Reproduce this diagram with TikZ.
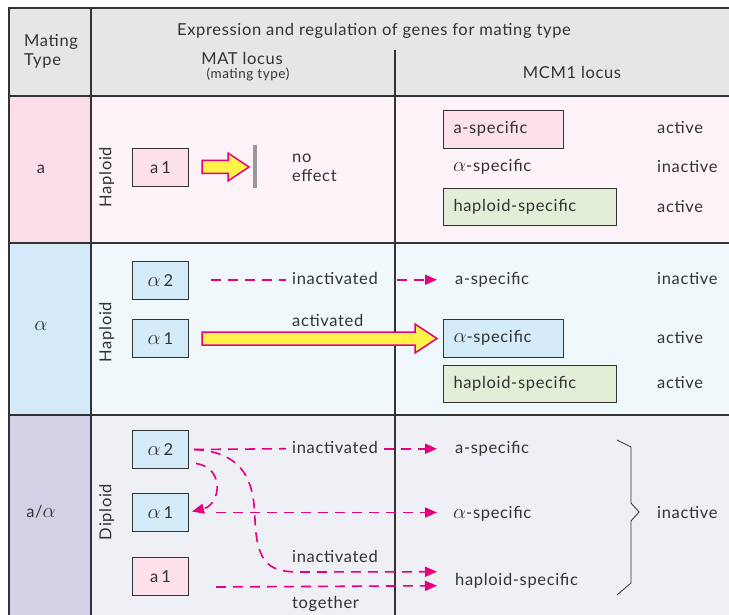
\documentclass[tikz,border=0pt]{standalone}
\usepackage{fontspec}
\setmainfont{Lato}[LetterSpace=4]
\usetikzlibrary{arrows.meta}
\definecolor{txtc}{HTML}{333333}
\definecolor{gridc}{HTML}{333333}
\definecolor{hdr}{HTML}{E6E6E8}
\definecolor{pinkL}{HTML}{FADDE8}
\definecolor{pinkR}{HTML}{FDF3F8}
\definecolor{blueL}{HTML}{D3EAF8}
\definecolor{blueR}{HTML}{F1F8FC}
\definecolor{lavL}{HTML}{D4D1E7}
\definecolor{lavR}{HTML}{EFEFF6}
\definecolor{boxpink}{HTML}{FCE0EA}
\definecolor{boxblue}{HTML}{D4ECF9}
\definecolor{boxgreen}{HTML}{E3EED6}
\definecolor{mag}{HTML}{E5007D}
\definecolor{yel}{HTML}{FFF34A}
\definecolor{barc}{HTML}{999999}
\newcommand{\mainsize}{\fontsize{16.5}{19}\selectfont}
\newcommand{\alp}{\scalebox{1.2}{$\alpha$}}
\begin{document}
\begin{tikzpicture}[x=1pt,y=-1pt,
  txt/.style={inner sep=0pt,text=txtc,font=\mainsize,text height=12pt,text depth=3.5pt},
  small/.style={inner sep=0pt,text=txtc,font=\fontsize{13.5}{16}\selectfont},
  gridline/.style={draw=gridc,line width=1.2pt},
  smallbox/.style={draw=gridc,line width=1pt,minimum width=56pt,minimum height=38pt,inner sep=0pt,anchor=north west,text=txtc,font=\mainsize},
  specbox/.style={draw=gridc,line width=1pt,minimum height=38pt,inner xsep=10pt,inner ysep=0pt,align=left,anchor=north west,text=txtc,font=\mainsize,text height=12pt,text depth=3.5pt},
  dashline/.style={draw=mag,line width=1.6pt,dash pattern=on 10pt off 7pt},
  tip/.style={-{Triangle[length=12pt,width=10pt]}},
  blockarrow/.style={draw=mag,fill=yel,line width=1.5pt,line join=miter},
  brace/.style={draw=gridc,line width=0.8pt}
]
\useasboundingbox (0,0) rectangle (729,615);
\fill[white] (0,0) rectangle (729,615);
% backgrounds
\fill[hdr] (9,8) rectangle (729,96);
\fill[pinkL] (9,96) rectangle (91,243);
\fill[pinkR] (91,96) rectangle (729,243);
\fill[blueL] (9,243) rectangle (91,415);
\fill[blueR] (91,243) rectangle (729,415);
\fill[lavL] (9,415) rectangle (91,615);
\fill[lavR] (91,415) rectangle (729,615);
% grid
\draw[gridline] (9,615) -- (9,8) -- (729,8);
\draw[gridline] (91,8) -- (91,615);
\draw[gridline] (9,96) -- (729,96);
\draw[gridline] (9,243) -- (729,243);
\draw[gridline] (9,415) -- (729,415);
\draw[gridline] (395,50) -- (395,615);
% header
\node[txt,anchor=base west] (mating) at (24,47) {Mating};
\node[txt,anchor=base west] (type) at (24,66) {Type};
\node[txt,anchor=base] (expr) at (374,36) {Expression and regulation of genes for mating type};
\node[txt,anchor=base,text depth=0pt] (mat) at (242,65) {MAT locus};
\node[small,anchor=base] (matsub) at (248,78.5) {(mating type)};
\node[txt,anchor=base] (mcm) at (572,79) {MCM1 locus};
% row labels
\node[txt,anchor=base] (la) at (41,174) {a};
\node[txt,anchor=base] (lb) at (41,330) {\alp};
\node[txt,anchor=base] (lc) at (41,517) {a/\alp};
\node[txt,rotate=90] (hapa) at (107,177) {Haploid};
\node[txt,rotate=90] (hapb) at (107,332) {Haploid};
\node[txt,rotate=90] (dipc) at (107,512) {Diploid};
% ---- row a
\node[smallbox,fill=boxpink] (a1a) at (132,148) {a\hspace{3pt}1};
\draw[blockarrow] (202,160.5) -- (228,160.5) -- (228,153) -- (249,167) -- (228,181) -- (228,173.5) -- (202,173.5) -- cycle;
\fill[barc] (253,145) rectangle (257,188);
\node[txt,anchor=base west] (noa) at (292,163) {no};
\node[txt,anchor=base west] (effa) at (292,182) {effect};
\node[specbox,fill=boxpink,text width=100pt] (aspa) at (443,110) {a-specific};
\node[txt,anchor=base west] (alspa) at (453,172) {\alp-specific};
\node[specbox,fill=boxgreen,text width=153pt,minimum height=37pt] (hspa) at (443,188) {haploid-specific};
\node[txt,anchor=base west] (st1) at (657,134) {active};
\node[txt,anchor=base west] (st2) at (657,173) {inactive};
\node[txt,anchor=base west] (st3) at (657,212) {active};
% ---- row alpha
\node[smallbox,fill=boxblue] (a2b) at (132,261) {\alp\hspace{3pt}2};
\node[smallbox,fill=boxblue] (a1b) at (132,319) {\alp\hspace{3pt}1};
\node[txt,anchor=base west] (inactb) at (292,284) {inactivated};
\node[txt,anchor=base west] (actb) at (292,326) {activated};
\node[txt,anchor=base west] (aspb) at (455,284) {a-specific};
\node[specbox,fill=boxblue,text width=100pt] (alspb) at (443,319) {\alp-specific};
\node[specbox,fill=boxgreen,text width=153pt,minimum height=37pt] (hspb) at (443,365) {haploid-specific};
\node[txt,anchor=base west] (st4) at (657,284) {inactive};
\node[txt,anchor=base west] (st5) at (657,343) {active};
\node[txt,anchor=base west] (st6) at (657,388) {active};
\coordinate (b1s) at ([shift={(22,0)}]a2b.east);
\coordinate (b1e) at ([shift={(-6,0)}]inactb.west);
\draw[dashline] (b1s |- inactb.west) -- (b1e);
\draw[dashline,tip] ([shift={(19,0)}]inactb.east) -- ([shift={(-18,0)}]aspb.west);
\draw[blockarrow] (202,332) -- (415,332) -- (415,324) -- (437,338.5) -- (415,353) -- (415,345) -- (202,345) -- cycle;
% ---- diploid
\node[smallbox,fill=boxblue] (a2c) at (132,430) {\alp\hspace{3pt}2};
\node[smallbox,fill=boxblue] (a1c) at (132,493) {\alp\hspace{3pt}1};
\node[smallbox,fill=boxpink] (a1d) at (132,557) {a\hspace{3pt}1};
\node[txt,anchor=base west] (inactc) at (292,453) {inactivated};
\node[txt,anchor=base west] (inactd) at (292,562) {inactivated};
\node[txt,anchor=base west] (tog) at (292,608) {together};
\node[txt,anchor=base west] (aspc) at (455,453) {a-specific};
\node[txt,anchor=base west] (alspc) at (453,518) {\alp-specific};
\node[txt,anchor=base west] (hspc) at (455,585) {haploid-specific};
\node[txt,anchor=base west] (st7) at (657,518) {inactive};
\coordinate (c1s) at ([shift={(5,0)}]a2c.east);
\draw[dashline] (c1s) -- ([shift={(-6,0)}]inactc.west);
\draw[dashline,tip] ([shift={(6,0)}]inactc.east) -- ([shift={(-18,0)}]aspc.west);
\draw[dashline,tip] ([shift={(7,14)}]a2c.east) .. controls ([shift={(36,18)}]a2c.east) and ([shift={(32,-8)}]a1c.east) .. ([shift={(3,-1)}]a1c.east);
\coordinate (c2s) at ([shift={(27,0)}]a1c.east);
\coordinate (c2e) at ([shift={(-16,0)}]alspc.west);
\draw[dashline,tip] (c2s) -- (c2e |- c2s);
\coordinate (c3e) at ([shift={(-18,-9)}]hspc.west);
\draw[dashline,tip] (c1s) .. controls (250,452) and (254,490) .. (255,520) .. controls (257,565) and (270,572) .. (300,572) -- (c3e);
\draw[dashline,tip] ([shift={(27,10.5)}]a1d.east) -- ([shift={(-18,5)}]hspc.west);
\draw[brace] (617,440) -- (631,447) -- (631,503) -- (639,512) -- (631,521) -- (631,583) -- (617,595);
\end{tikzpicture}
\end{document}
